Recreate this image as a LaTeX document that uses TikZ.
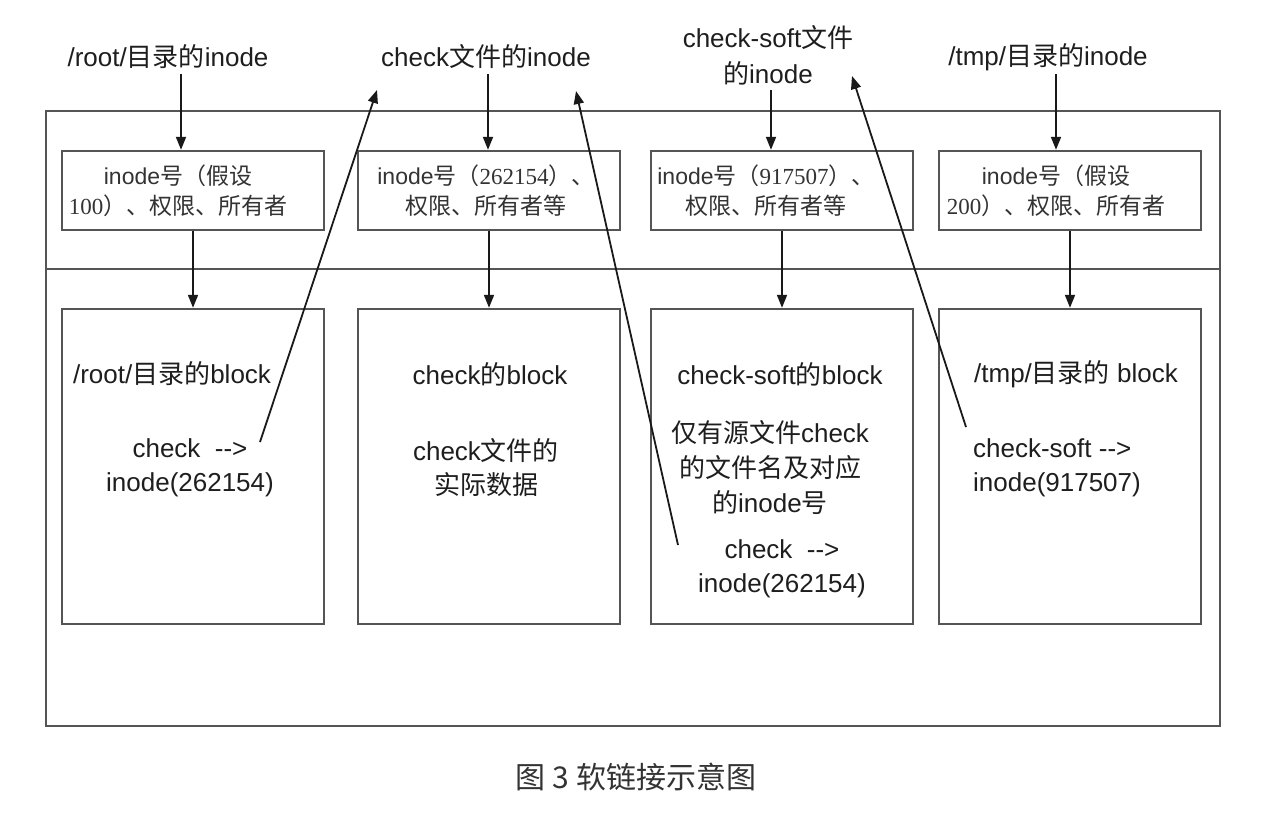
\documentclass[tikz,border=0pt]{standalone}
\usepackage{fontspec}
\setmainfont{Liberation Sans}
\newfontfamily\cjk{Noto Sans CJK SC}
\newfontfamily\serifd{Liberation Serif}
\usetikzlibrary{arrows.meta,calc}
\definecolor{boxline}{HTML}{555555}
\definecolor{txt}{HTML}{1E1E1E}
\definecolor{captxt}{HTML}{333333}
\newcommand{\zh}[1]{{\cjk #1}}
\newcommand{\dg}[1]{{\serifd #1}}
\begin{document}
\begin{tikzpicture}[x=1pt,y=-1pt,
  frame/.style={draw=boxline,line width=2.4pt},
  ibox/.style={frame,minimum width=262pt,minimum height=79pt,inner sep=0pt},
  bbox/.style={frame,minimum width=262pt,minimum height=315pt,inner sep=0pt},
  lbl/.style={text=txt,font=\fontsize{26}{34}\selectfont,align=center,inner sep=0pt},
  itxt/.style={text=captxt,font=\fontsize{23}{30}\selectfont,align=center,inner sep=0pt},
  arr/.style={draw=black!90,line width=1.8pt,-{Triangle[length=13pt,width=10pt]}},
]
\useasboundingbox[fill=white] (0,0) rectangle (1284,816);

% outer frame and divider
\node[frame,minimum width=1174pt,minimum height=615pt,inner sep=0pt] (outer) at (633,418.5) {};
\draw[frame] (outer.west |- 0,269) coordinate (dl) -- (outer.east |- 0,269) coordinate (dr);

% top labels
\node[lbl] (lab1) at (168,57) {/root/\zh{目录的}inode};
\node[lbl] (lab2) at (486,57) {check\zh{文件的}inode};
\node[lbl,font=\fontsize{26}{36}\selectfont] (lab3) at (768,55) {check-soft\zh{文件}\\\zh{的}inode};
\node[lbl] (lab4) at (1048,57) {/tmp/\zh{目录的}inode};

% inode boxes
\node[ibox] (ti1) at (193,190.5) {};
\node[ibox] (ti2) at (489,190.5) {};
\node[ibox] (ti3) at (782,190.5) {};
\node[ibox] (ti4) at (1070,190.5) {};
\node[itxt] (tt1) at (178,191) {inode\zh{号（假设}\\\dg{100}\zh{）、权限、所有者}};
\node[itxt] (tt2) at (486,191) {inode\zh{号（}\dg{262154}\zh{）、}\\\zh{权限、所有者等}};
\node[itxt] (tt3) at (766,191) {inode\zh{号（}\dg{917507}\zh{）、}\\\zh{权限、所有者等}};
\node[itxt] (tt4) at (1056,191) {inode\zh{号（假设}\\\dg{200}\zh{）、权限、所有者}};

% block boxes
\node[bbox] (bk1) at (193,466.5) {};
\node[bbox] (bk2) at (489,466.5) {};
\node[bbox] (bk3) at (782,466.5) {};
\node[bbox] (bk4) at (1070,466.5) {};

\node[lbl] (b1t) at (172,374) {/root/\zh{目录的}block};
\node[lbl] (b1c) at (190,468) {check \ -{}->\\inode(262154)};
\node[lbl] (b2t) at (490,374) {check\zh{的}block};
\node[lbl] (b2c) at (486,468) {check\zh{文件的}\\\zh{实际数据}};
\node[lbl] (b3t) at (780,374) {check-soft\zh{的}block};
\node[lbl,font=\fontsize{26}{35}\selectfont] (b3d) at (770,468) {\zh{仅有源文件}check\\\zh{的文件名及对应}\\\zh{的}inode\zh{号}};
\node[lbl] (b3c) at (782,569) {check \ -{}->\\inode(262154)};
\node[lbl] (b4t) at (1076,374) {/tmp/\zh{目录的} block};
\node[lbl,align=left] (b4c) at (1057,468) {check-soft -{}->\\inode(917507)};

% vertical arrows from labels
\coordinate (a1) at (181,74);
\coordinate (a2) at (488,74);
\coordinate (a3) at (771,90);
\coordinate (a4) at (1056,74);
\draw[arr] (a1) -- (a1 |- ti1.north);
\draw[arr] (a2) -- (a2 |- ti2.north);
\draw[arr] (a3) -- (a3 |- ti3.north);
\draw[arr] (a4) -- (a4 |- ti4.north);

% arrows from inode boxes to blocks
\draw[arr] (ti1.south) -- (bk1.north);
\draw[arr] (ti2.south) -- (bk2.north);
\draw[arr] (ti3.south) -- (bk3.north);
\draw[arr] (ti4.south) -- (bk4.north);

% diagonal pointer arrows
\coordinate (d1s) at (260,442);
\coordinate (d1e) at (377,90);
\coordinate (d2s) at (678,545);
\coordinate (d2e) at (576,91);
\coordinate (d3s) at (966,427);
\coordinate (d3e) at (852,76);
\draw[arr] (d1s) -- (d1e);
\draw[arr] (d2s) -- (d2e);
\draw[arr] (d3s) -- (d3e);

% caption
\node[text=captxt,font=\cjk\fontsize{30}{36}\selectfont,inner sep=0pt] (cap) at (636,777) {图 3 软链接示意图};
\end{tikzpicture}
\end{document}
